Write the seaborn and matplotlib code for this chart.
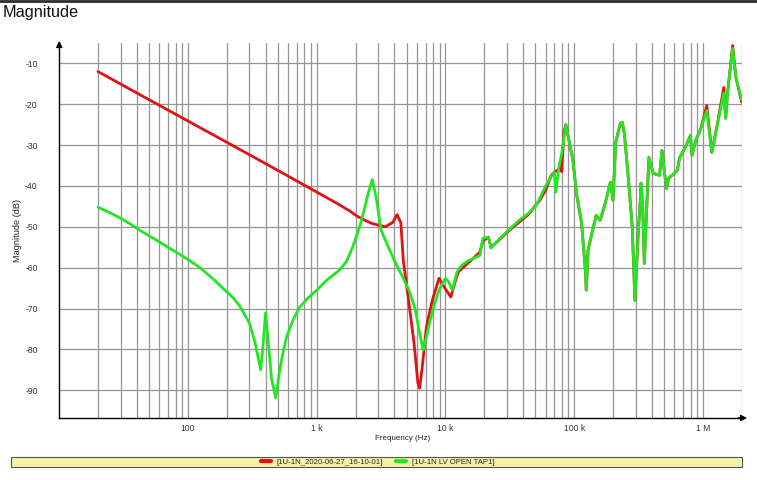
import pandas as pd
import matplotlib
matplotlib.use("Agg")
import matplotlib.pyplot as plt
import matplotlib.ticker as mticker
from matplotlib.lines import Line2D
from matplotlib.patches import Rectangle
import seaborn as sns

# series names (legend text)
series_names = ["[1U-1N_2020-06-27_16-10-01]", "[1U-1N LV OPEN TAP1]"]

# red trace: frequency (Hz) and magnitude (dB)
red_freq = [20, 50, 100, 200, 500, 1000, 1500, 1800, 2060, 2400, 2700, 3400, 3900, 4200,
            4500, 4700, 5200, 5700, 6100, 6300, 6600, 7100, 7900, 8900, 9800, 11000,
            12000, 12600, 15800, 18500, 19500, 21500, 22600, 25500, 30900, 44000, 54000,
            60000, 66000, 70000, 76000, 78000, 80000, 83000, 86000, 97700, 104000,
            114000, 122000, 124000, 128000, 137000, 148000, 159000, 174000, 191000,
            200000, 210000, 228000, 236000, 245000, 264000, 282000, 296000, 315000,
            325000, 330000, 340000, 350000, 380000, 410000, 460000, 480000, 520000,
            540000, 600000, 630000, 660000, 730000, 800000, 820000, 880000, 960000,
            1070000, 1170000, 1280000, 1450000, 1500000, 1550000, 1700000, 1800000,
            2000000]
red_db = [-12.0, -18.9, -24.1, -29.3, -36.2, -41.5, -44.6, -46.1, -47.4, -48.5, -49.2,
          -50.0, -48.9, -47.0, -49.0, -58.2, -68.7, -78.5, -88.2, -89.5, -84.3, -74.6,
          -68.0, -62.6, -64.8, -67.2, -63.0, -61.0, -58.2, -56.2, -53.5, -52.5, -55.0,
          -53.5, -51.0, -47.0, -43.5, -41.0, -37.5, -36.6, -36.0, -34.0, -36.5, -27.0,
          -25.0, -33.7, -41.8, -49.1, -60.6, -65.5, -55.7, -51.6, -47.2, -48.4, -44.2,
          -39.1, -43.5, -29.3, -24.7, -24.4, -27.1, -38.6, -50.0, -68.0, -50.8, -44.0,
          -39.3, -45.0, -59.0, -33.0, -36.9, -37.4, -31.3, -40.6, -38.1, -36.9, -36.2,
          -33.0, -30.5, -27.6, -32.5, -28.8, -26.0, -20.3, -31.8, -25.6, -15.9, -23.4,
          -17.3, -5.6, -13.4, -19.5]

# green trace: frequency (Hz) and magnitude (dB)
green_freq = [20, 25, 30, 36, 42, 50, 60, 70, 85, 100, 124, 160, 195, 223, 250, 270, 300,
              330, 367, 385, 400, 420, 445, 480, 510, 545, 583, 650, 735, 850, 1000,
              1200, 1500, 1700, 1900, 2100, 2260, 2500, 2700, 2900, 3160, 3600, 4100,
              4600, 5200, 5800, 6300, 6700, 7100, 7500, 8200, 8900, 10000, 10600, 11300,
              12300, 13400, 15000, 18500, 19500, 21500, 22600, 25500, 30900, 37000,
              44000, 50000, 54000, 60000, 66000, 70000, 72000, 76000, 80000, 86000,
              97700, 104000, 114000, 122000, 124000, 128000, 137000, 148000, 159000,
              174000, 191000, 200000, 210000, 228000, 236000, 245000, 264000, 282000,
              296000, 315000, 325000, 330000, 340000, 350000, 380000, 410000, 460000,
              480000, 520000, 540000, 600000, 630000, 660000, 730000, 800000, 820000,
              880000, 960000, 1070000, 1170000, 1280000, 1450000, 1500000, 1550000,
              1700000, 1800000, 2000000]
green_db = [-45.2, -46.6, -47.9, -49.4, -50.8, -52.2, -53.7, -55.0, -56.6, -58.0, -60.0,
            -63.0, -65.6, -67.3, -69.2, -71.0, -73.6, -78.0, -85.0, -78.0, -71.1, -78.0,
            -87.0, -91.9, -86.0, -81.0, -77.0, -73.0, -69.7, -67.5, -65.5, -63.0, -60.6,
            -58.5, -55.0, -51.0, -47.6, -42.0, -38.4, -43.0, -50.8, -55.0, -58.9, -62.0,
            -65.5, -70.0, -76.0, -80.2, -77.0, -73.6, -69.0, -65.5, -62.6, -63.5, -65.5,
            -61.0, -59.4, -58.3, -57.0, -52.8, -52.5, -55.2, -53.3, -50.8, -48.5, -46.7,
            -45.0, -43.0, -40.0, -37.8, -36.6, -41.5, -35.4, -32.0, -25.0, -33.7, -41.8,
            -49.1, -60.6, -65.5, -55.7, -51.6, -47.2, -48.4, -44.2, -39.1, -43.5, -29.3,
            -24.7, -24.4, -27.1, -38.6, -50.0, -68.0, -50.8, -44.0, -39.3, -45.0, -59.0,
            -33.0, -36.9, -37.4, -31.3, -40.6, -38.1, -36.9, -36.2, -33.0, -30.5, -27.6,
            -32.5, -28.8, -26.0, -21.5, -31.8, -25.6, -17.3, -23.4, -17.3, -6.3, -13.4,
            -19.0]

x_tick_values = [100, 1e3, 1e4, 1e5, 1e6]
x_tick_labels = ["100", "1 k", "10 k", "100 k", "1 M"]
y_tick_values = [-10, -20, -30, -40, -50, -60, -70, -80, -90]

RED = "#e01212"
GREEN = "#22e622"

sns.set_style("white")
plt.rcParams['font.family'] = ['Liberation Sans', 'DejaVu Sans']
plt.rcParams['axes.unicode_minus'] = False

df = pd.concat([
    pd.DataFrame({'freq': red_freq, 'db': red_db, 'series': series_names[0]}),
    pd.DataFrame({'freq': green_freq, 'db': green_db, 'series': series_names[1]}),
])

fig = plt.figure(figsize=(7.57, 4.8), dpi=100)
ax = fig.add_axes([59.25 / 757, 62 / 480, 682.5 / 757, 375 / 480])

sns.lineplot(data=df, x='freq', y='db', hue='series', palette=[RED, GREEN],
             estimator=None, sort=False, lw=2, legend=False, ax=ax)

ax.set_xscale('log')
ax.set_xlim(10, 2e6)
ax.set_ylim(-96.8, -5)

# log grid like the analyser software
ax.xaxis.set_major_locator(mticker.FixedLocator(x_tick_values))
ax.xaxis.set_major_formatter(mticker.FixedFormatter(x_tick_labels))
ax.xaxis.set_minor_locator(mticker.LogLocator(base=10, subs=range(2, 10), numticks=20))
ax.xaxis.set_minor_formatter(mticker.NullFormatter())
ax.set_yticks(y_tick_values)
ax.grid(which='both', axis='x', color='#959595', lw=0.9)
ax.grid(which='major', axis='y', color='#959595', lw=0.9)
ax.tick_params(which='both', length=0)
ax.tick_params(axis='y', pad=15.5, labelsize=6.2, labelcolor='#333333')
ax.tick_params(axis='x', pad=4, labelsize=6.2, labelcolor='#333333')
ax.set_xlabel('')
ax.set_ylabel('')

for side in ['top', 'right']:
    ax.spines[side].set_visible(False)
for side in ['left', 'bottom']:
    ax.spines[side].set_color('black')
    ax.spines[side].set_linewidth(1)

# arrow heads on the axes
ax.annotate('', xy=(1.012, 0), xytext=(0.99, 0), xycoords='axes fraction',
            arrowprops=dict(arrowstyle='-|>', color='black', lw=1, mutation_scale=9))
ax.annotate('', xy=(0, 1.013), xytext=(0, 0.98), xycoords='axes fraction',
            arrowprops=dict(arrowstyle='-|>', color='black', lw=1, mutation_scale=9))

fig.text(403 / 757, 1 - 438 / 480, 'Frequency (Hz)', ha='center', va='center',
         fontsize=5.8, color='#222222')
fig.text(17 / 757, 1 - 230 / 480, 'Magnitude (dB)', ha='center', va='center',
         rotation=90, fontsize=6.6, color='#222222')
fig.text(3 / 757, 1 - 12 / 480, 'Magnitude', ha='left', va='center', fontsize=11.7,
         color='#111111')

# dark window edge at the very top
fig.add_artist(Line2D([0, 1], [0.998, 0.998], transform=fig.transFigure,
                      color='#2b2b2b', lw=2))

# yellow legend bar
fig.add_artist(Rectangle((10.5 / 757, 13 / 480), 731 / 757, 10 / 480,
                         transform=fig.transFigure, facecolor='#f6f3a6',
                         edgecolor='#555555', lw=0.8))
handles = [Line2D([], [], color=RED, lw=3), Line2D([], [], color=GREEN, lw=3)]
fig.legend(handles, series_names, loc='center', bbox_to_anchor=(0.499, 18 / 480),
           ncol=2, frameon=False, fontsize=5.6, handlelength=1.3, handletextpad=0.75,
           columnspacing=1.7, borderpad=0, borderaxespad=0)

fig.savefig('out.png', dpi=100)
